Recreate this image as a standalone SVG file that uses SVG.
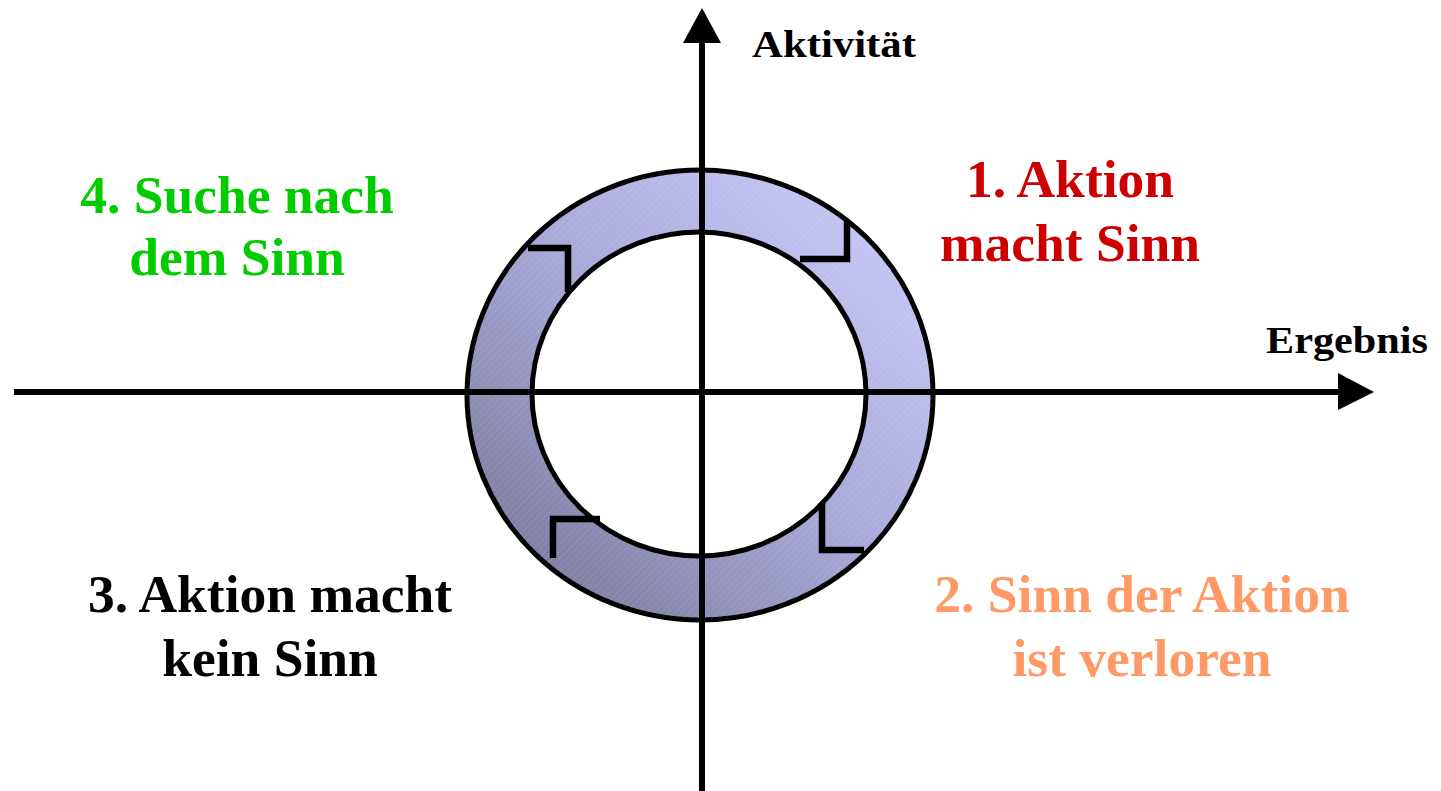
<svg xmlns="http://www.w3.org/2000/svg" width="1441" height="791" viewBox="0 0 1441 791">
  <defs>
    <linearGradient id="ringGrad" x1="1" y1="0" x2="0" y2="1">
      <stop offset="0" stop-color="#d0d0ff"/>
      <stop offset="0.5" stop-color="#a8a8d8"/>
      <stop offset="1" stop-color="#70708f"/>
    </linearGradient>
    <pattern id="hatch" width="5" height="5" patternUnits="userSpaceOnUse" patternTransform="rotate(45)">
      <line x1="0" y1="0" x2="0" y2="5" stroke="#ffffff" stroke-opacity="0.18" stroke-width="1"/>
    </pattern>
  </defs>
  <style>
    .axis { stroke: #000; stroke-width: 6; fill: none; }
    .head { fill: #000; }
    .ring { stroke: #000; stroke-width: 5; }
    .notch { stroke: #000; stroke-width: 6.5; fill: none; stroke-linejoin: miter; }
    .big { font-family: "Liberation Serif", "Times New Roman", serif; font-weight: bold; font-size: 53.5px; text-anchor: middle; }
    .axlabel { font-family: "Liberation Serif", "Times New Roman", serif; font-weight: bold; font-size: 38px; }
  </style>

  <g id="ring">
    <ellipse cx="700" cy="395" rx="233" ry="225" fill="url(#ringGrad)" class="ring"/>
    <ellipse cx="700" cy="395" rx="233" ry="225" fill="url(#hatch)" stroke="none"/>
    <ellipse cx="699" cy="394" rx="167" ry="162" fill="#ffffff" class="ring"/>
    <polyline class="notch" points="800,259 847,259 847,220"/>
    <polyline class="notch" points="528,248 568,248 568,292"/>
    <polyline class="notch" points="553,558 553,519 600,519"/>
    <polyline class="notch" points="822,503 822,550 864,550"/>
  </g>

  <g id="connectors">
    <line class="axis" x1="14" y1="392" x2="1340" y2="392"/>
    <polygon class="head" points="1338,373 1374,392 1338,410"/>
    <line class="axis" x1="702" y1="791" x2="702" y2="40"/>
    <polygon class="head" points="683,43 702,8 721,43"/>
  </g>

  <g id="label-aktivitaet">
    <text class="axlabel" x="752" y="57" textLength="164" lengthAdjust="spacingAndGlyphs">Aktivität</text>
  </g>
  <g id="label-ergebnis">
    <text class="axlabel" x="1266" y="353" textLength="162" lengthAdjust="spacingAndGlyphs">Ergebnis</text>
  </g>

  <g id="q1">
    <text class="big" fill="#cc0000" x="1070" y="197">1. Aktion</text>
    <text class="big" fill="#cc0000" x="1070" y="261">macht Sinn</text>
  </g>
  <g id="q2">
    <text class="big" fill="#ff9966" x="1142" y="612">2. Sinn der Aktion</text>
    <text class="big" fill="#ff9966" x="1142" y="676">ist verloren</text>
  </g>
  <g id="q3">
    <text class="big" fill="#000000" x="270" y="612">3. Aktion macht</text>
    <text class="big" fill="#000000" x="270" y="676">kein Sinn</text>
  </g>
  <g id="q4">
    <text class="big" fill="#00cc00" x="237" y="213">4. Suche nach</text>
    <text class="big" fill="#00cc00" x="237" y="275">dem Sinn</text>
  </g>
</svg>
